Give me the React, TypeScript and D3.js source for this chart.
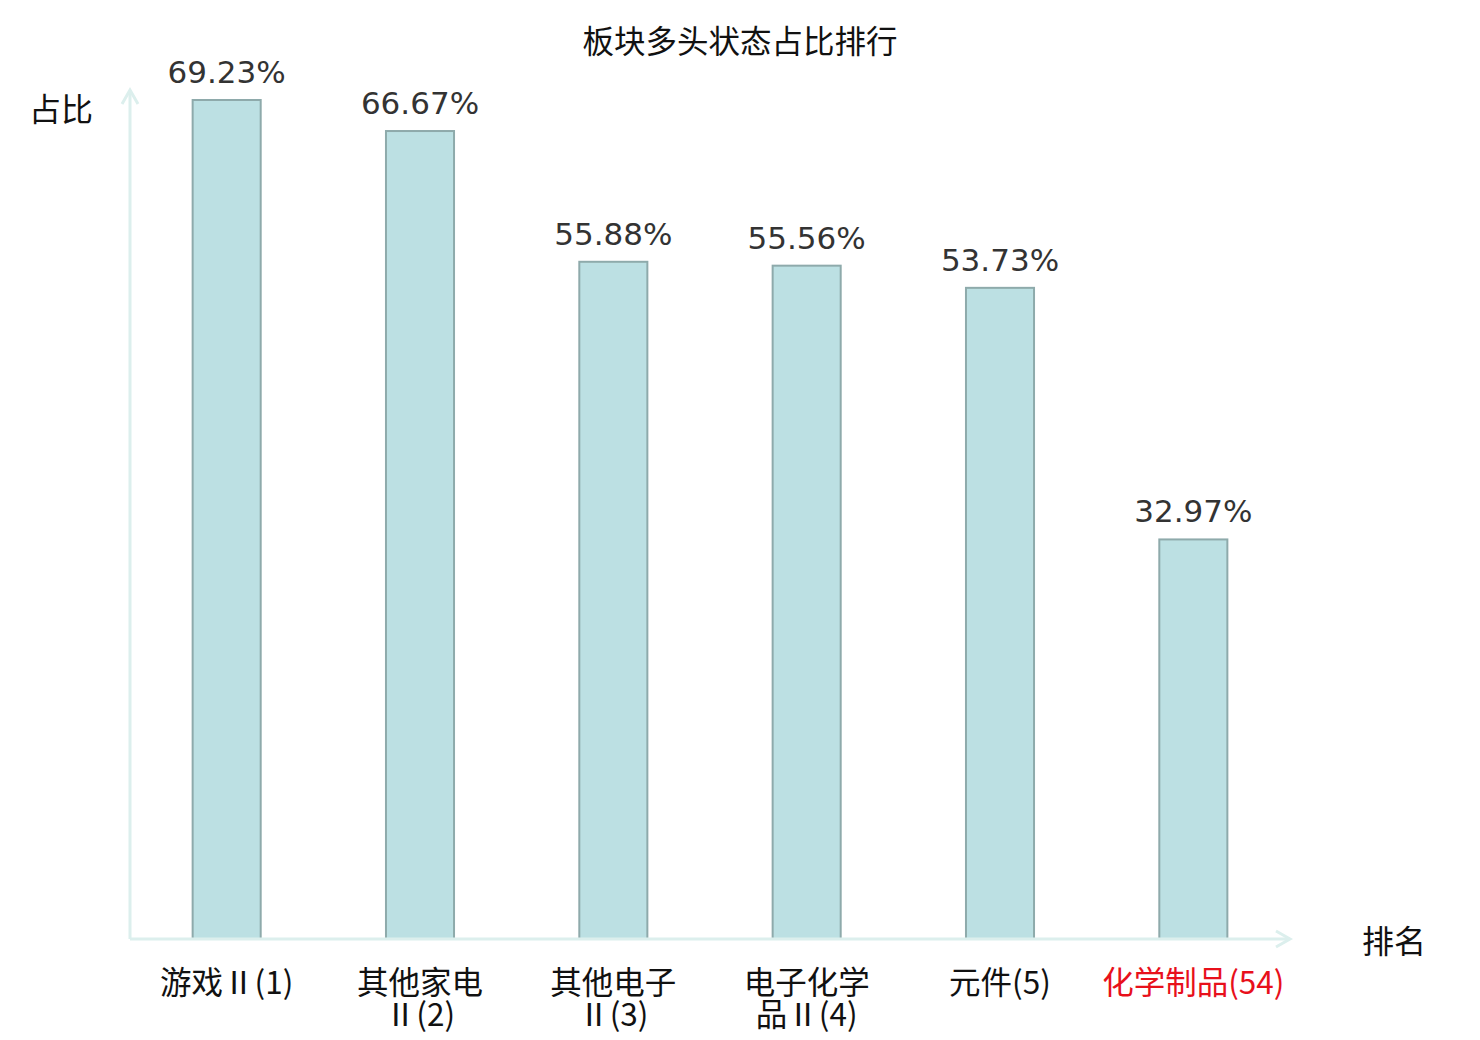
import React from "react";
import * as d3 from "d3";

const categories = ["游戏Ⅱ(1)", "其他家电Ⅱ(2)", "其他电子Ⅱ(3)", "电子化学品Ⅱ(4)", "元件(5)", "化学制品(54)"];
const labelLines = [["游戏Ⅱ(1)"], ["其他家电", "Ⅱ(2)"], ["其他电子", "Ⅱ(3)"], ["电子化学", "品Ⅱ(4)"], ["元件(5)"], ["化学制品(54)"]];
const values = [69.23, 66.67, 55.88, 55.56, 53.73, 32.97];
const highlighted = ["化学制品(54)"];

const W = 1480;
const H = 1040;
const x0 = 130;
const x1 = 1290;
const yBase = 939;
const yTop = 90;

const cjk = "'Noto Sans CJK SC', 'Noto Sans', sans-serif";
const axisColor = "#dcefed";

export default function App() {
  const x = d3.scaleBand<string>().domain(categories).range([x0, x1]).paddingInner(0.648).paddingOuter(0.324);
  const y = d3.scaleLinear().domain([0, 69.23]).range([yBase, 100]);

  return (
    <svg width={W} height={H} style={{ position: "absolute", left: 0, top: 0, background: "#fff" }}>
      <text x={740} y={53} textAnchor="middle" fontFamily={cjk} fontSize={31.5} fill="#111">
        板块多头状态占比排行
      </text>

      {categories.map((c, i) => (
        <g key={c}>
          <rect
            x={x(c)}
            y={y(values[i])}
            width={x.bandwidth()}
            height={yBase - y(values[i])}
            fill="#bce0e3"
            stroke="#8eaaab"
            strokeWidth={2}
          />
          <text
            x={x(c)! + x.bandwidth() / 2}
            y={y(values[i]) - 17}
            textAnchor="middle"
            fontFamily="'DejaVu Sans', sans-serif"
            fontSize={31}
            fill="#333"
          >
            {values[i].toFixed(2)}%
          </text>
          <text
            x={x(c)! + x.bandwidth() / 2}
            y={994}
            textAnchor="middle"
            fontFamily={cjk}
            fontSize={31.5}
            fill={highlighted.includes(c) ? "#e8101b" : "#111"}
          >
            {labelLines[i].map((line, j) => (
              <tspan key={j} x={x(c)! + x.bandwidth() / 2} dy={j === 0 ? 0 : 32}>
                {line}
              </tspan>
            ))}
          </text>
        </g>
      ))}

      {/* axes with open arrows */}
      <line x1={x0} y1={yBase} x2={x0} y2={yTop} stroke={axisColor} strokeWidth={3} />
      <polyline points={`${x0 - 8},${yTop + 14} ${x0},${yTop} ${x0 + 8},${yTop + 14}`} fill="none" stroke={axisColor} strokeWidth={3} />
      <line x1={x0} y1={yBase} x2={x1} y2={yBase} stroke={axisColor} strokeWidth={3} />
      <polyline points={`${x1 - 14},${yBase - 8} ${x1},${yBase} ${x1 - 14},${yBase + 8}`} fill="none" stroke={axisColor} strokeWidth={3} />

      <text x={93} y={121} textAnchor="end" fontFamily={cjk} fontSize={32} fill="#111">
        占比
      </text>
      <text x={1362} y={953} fontFamily={cjk} fontSize={32} fill="#111">
        排名
      </text>
    </svg>
  );
}
